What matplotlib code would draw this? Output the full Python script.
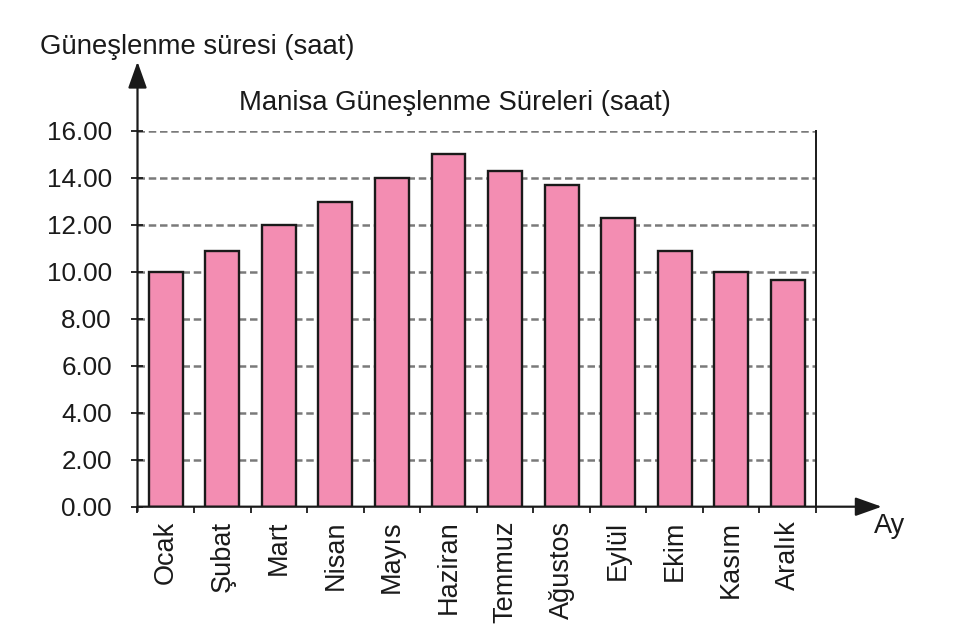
import matplotlib
matplotlib.use("Agg")
import matplotlib.pyplot as plt
import numpy as np

months = ["Ocak", "Şubat", "Mart", "Nisan", "Mayıs", "Haziran", "Temmuz",
          "Ağustos", "Eylül", "Ekim", "Kasım", "Aralık"]
hours = [10.0, 10.9, 12.0, 12.95, 14.0, 15.0, 14.3, 13.7, 12.3, 10.9, 10.0, 9.65]
yticks = [0, 2, 4, 6, 8, 10, 12, 14, 16]
title = "Manisa Güneşlenme Süreleri (saat)"
ylabel = "Güneşlenme süresi (saat)"
xlabel = "Ay"

plt.rcParams['font.family'] = ['Liberation Sans', 'DejaVu Sans']

fig = plt.figure(figsize=(9.7, 6.33), dpi=100)
W, H = 970, 633
x0, x1 = 137.5, 816
y0, y1 = 506.7, 130.7
ax = fig.add_axes([x0 / W, (H - y0) / H, (x1 - x0) / W, (y0 - y1) / H])

x = np.arange(len(months))
ax.bar(x, hours, width=0.6, color="#F38DB2", edgecolor="#1a1a1a", linewidth=1.7, zorder=3)

ax.set_xlim(-0.5, len(months) - 0.5)
ax.set_ylim(0, 16)
ax.set_yticks(yticks)
ax.set_yticklabels([f"{v:.2f}" for v in yticks], fontsize=18.7, color="#1a1a1a")
ax.yaxis.grid(True, linestyle=(0, (3.0, 1.5)), color="#7a7a7a", linewidth=1.8, zorder=1)
ax.tick_params(axis='y', direction='inout', length=9, width=1.3, pad=14, color="#1a1a1a")

# month labels
ax.set_xticks(x)
ax.set_xticklabels(months, rotation=90, fontsize=19.5, va='top', ha='center', color="#1a1a1a")
ax.tick_params(axis='x', length=0, pad=10)
ax.set_xticks(np.arange(-0.5, len(months) + 0.5, 1), minor=True)
ax.tick_params(axis='x', which='minor', direction='out', length=4.5, width=1.3, color="#1a1a1a")

for s in ['top', 'left', 'bottom']:
    ax.spines[s].set_visible(False)
ax.spines['right'].set_linewidth(1.4)
ax.spines['right'].set_color("#1a1a1a")

# axis arrows
ytop = (y0 - 61.7) / (y0 - y1)
xend = (881.7 - x0) / (x1 - x0)
arrowprops = dict(arrowstyle='-|>,head_length=0.9,head_width=0.32', color='#1a1a1a',
                  lw=1.6, shrinkA=0, shrinkB=0, mutation_scale=18)
ax.annotate("", xy=(0, ytop), xytext=(0, -0.012), xycoords='axes fraction',
            arrowprops=arrowprops, annotation_clip=False)
ax.annotate("", xy=(xend, 0), xytext=(0, 0), xycoords='axes fraction',
            arrowprops=arrowprops, annotation_clip=False)

fig.text(40 / W, (H - 54) / H, ylabel, fontsize=19.8, ha='left', va='baseline', color="#1a1a1a")
fig.text(455 / W, (H - 110) / H, title, fontsize=19.8, ha='center', va='baseline', color="#1a1a1a")
fig.text(890 / W, (H - 533) / H, xlabel, fontsize=19.5, ha='center', va='baseline', color="#1a1a1a")

fig.savefig("out.png", dpi=100)
